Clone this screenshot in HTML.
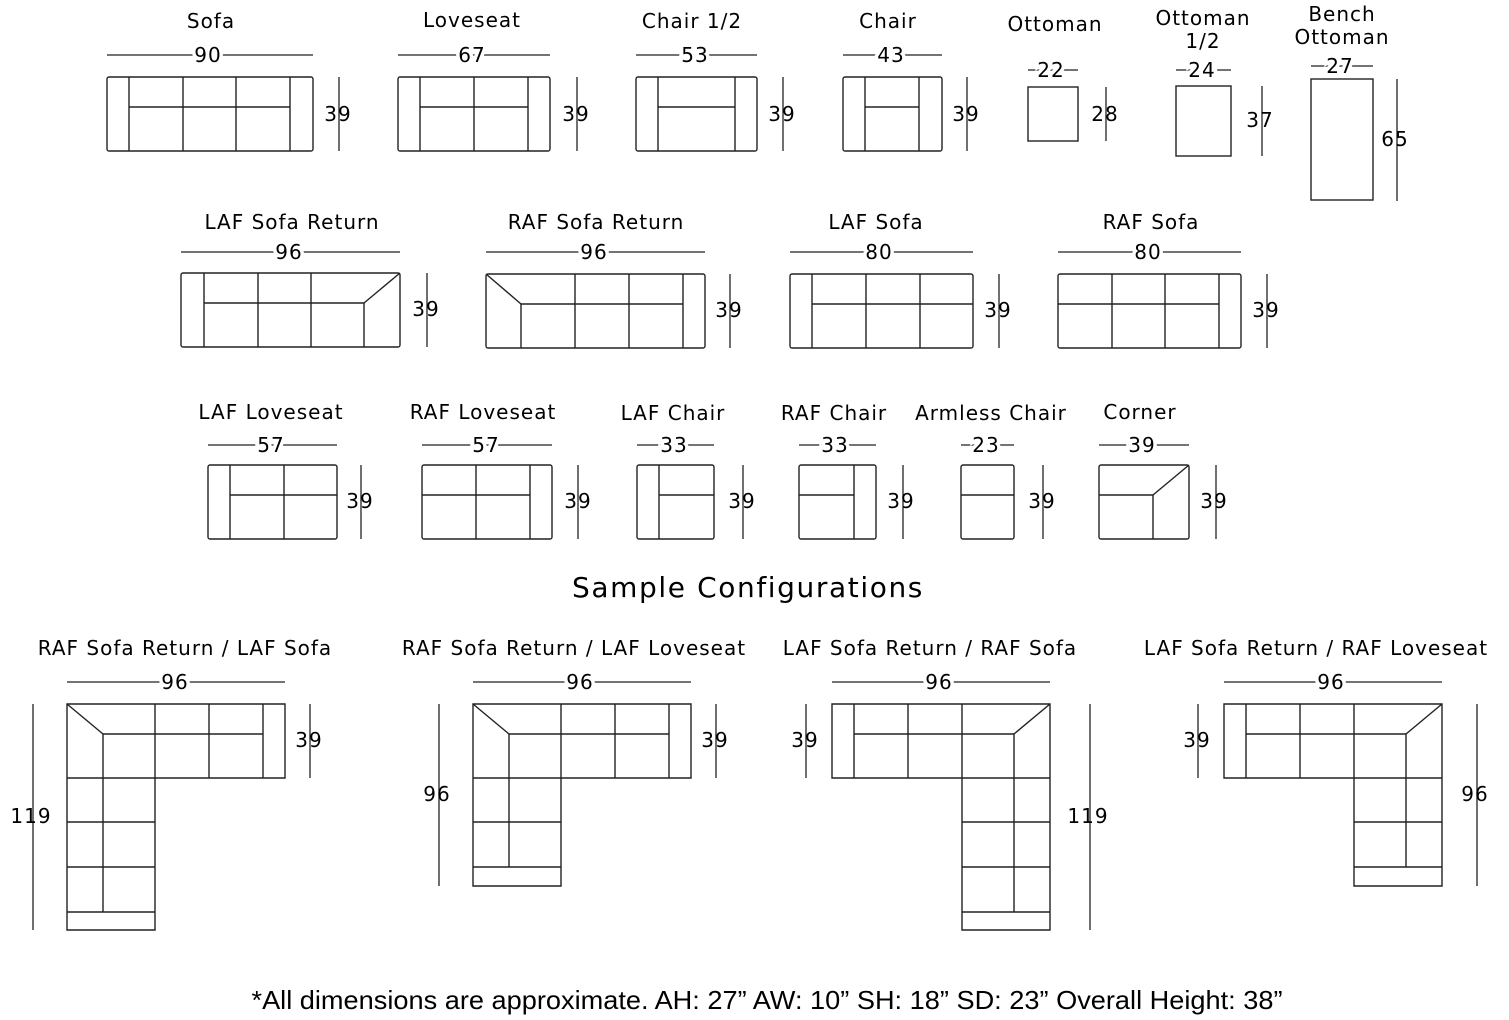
<!DOCTYPE html>
<html><head><meta charset="utf-8"><style>
html,body{margin:0;padding:0;background:#fff;}
svg{display:block;}
text{font-family:"DejaVu Sans","Liberation Sans",sans-serif;font-size:20px;letter-spacing:1px;fill:#000;text-anchor:middle;}
.h{stroke:#fff;stroke-width:7px;paint-order:stroke;}
g.s rect,g.s path,g.s line{fill:none;stroke:#222;stroke-width:1.4;}
line.d{stroke:#222;stroke-width:1.3;}
</style></head><body>
<svg width="1509" height="1020" viewBox="0 0 1509 1020">
<g class="s">
<rect x="107" y="77" width="206" height="74" rx="2"/><line x1="129" y1="77" x2="129" y2="151"/><line x1="290" y1="77" x2="290" y2="151"/><line x1="129" y1="107" x2="290" y2="107"/><line x1="183" y1="77" x2="183" y2="151"/><line x1="236" y1="77" x2="236" y2="151"/>
<rect x="398" y="77" width="152" height="74" rx="2"/><line x1="420" y1="77" x2="420" y2="151"/><line x1="528" y1="77" x2="528" y2="151"/><line x1="420" y1="107" x2="528" y2="107"/><line x1="474" y1="77" x2="474" y2="151"/>
<rect x="636" y="77" width="121" height="74" rx="2"/><line x1="658" y1="77" x2="658" y2="151"/><line x1="735" y1="77" x2="735" y2="151"/><line x1="658" y1="107" x2="735" y2="107"/>
<rect x="843" y="77" width="99" height="74" rx="2"/><line x1="865" y1="77" x2="865" y2="151"/><line x1="919" y1="77" x2="919" y2="151"/><line x1="865" y1="107" x2="919" y2="107"/>
<rect x="1028" y="87" width="50" height="54"/>
<rect x="1176" y="86" width="55" height="70"/>
<rect x="1311" y="79" width="62" height="121"/>
<rect x="181" y="273" width="219" height="74" rx="2"/><line x1="204" y1="273" x2="204" y2="347"/><line x1="204" y1="303" x2="364" y2="303"/><line x1="258" y1="273" x2="258" y2="347"/><line x1="311" y1="273" x2="311" y2="347"/><line x1="364" y1="303" x2="400" y2="273"/><line x1="364" y1="303" x2="364" y2="347"/>
<rect x="486" y="274" width="219" height="74" rx="2"/><line x1="486" y1="274" x2="521" y2="304"/><line x1="521" y1="304" x2="521" y2="348"/><line x1="521" y1="304" x2="683" y2="304"/><line x1="575" y1="274" x2="575" y2="348"/><line x1="629" y1="274" x2="629" y2="348"/><line x1="683" y1="274" x2="683" y2="348"/>
<rect x="790" y="274" width="183" height="74" rx="2"/><line x1="812" y1="274" x2="812" y2="348"/><line x1="812" y1="304" x2="973" y2="304"/><line x1="866" y1="274" x2="866" y2="348"/><line x1="920" y1="274" x2="920" y2="348"/>
<rect x="1058" y="274" width="183" height="74" rx="2"/><line x1="1219" y1="274" x2="1219" y2="348"/><line x1="1058" y1="304" x2="1219" y2="304"/><line x1="1112" y1="274" x2="1112" y2="348"/><line x1="1165" y1="274" x2="1165" y2="348"/>
<rect x="208" y="465" width="129" height="74" rx="2"/><line x1="230" y1="465" x2="230" y2="539"/><line x1="230" y1="495" x2="337" y2="495"/><line x1="284" y1="465" x2="284" y2="539"/>
<rect x="422" y="465" width="130" height="74" rx="2"/><line x1="530" y1="465" x2="530" y2="539"/><line x1="422" y1="495" x2="530" y2="495"/><line x1="476" y1="465" x2="476" y2="539"/>
<rect x="637" y="465" width="77" height="74" rx="2"/><line x1="659" y1="465" x2="659" y2="539"/><line x1="659" y1="495" x2="714" y2="495"/>
<rect x="799" y="465" width="77" height="74" rx="2"/><line x1="854" y1="465" x2="854" y2="539"/><line x1="799" y1="495" x2="854" y2="495"/>
<rect x="961" y="465" width="53" height="74" rx="2"/><line x1="961" y1="495" x2="1014" y2="495"/>
<rect x="1099" y="465" width="90" height="74" rx="2"/><line x1="1099" y1="495" x2="1153" y2="495"/><line x1="1153" y1="495" x2="1189" y2="465"/><line x1="1153" y1="495" x2="1153" y2="539"/>
<path d="M67 704 H285 V778 H155 V930 H67 Z"/><line x1="67" y1="704" x2="103" y2="734"/><line x1="103" y1="734" x2="263" y2="734"/><line x1="103" y1="734" x2="103" y2="912"/><line x1="155" y1="704" x2="155" y2="778"/><line x1="209" y1="704" x2="209" y2="778"/><line x1="263" y1="704" x2="263" y2="778"/><line x1="67" y1="778" x2="155" y2="778"/><line x1="67" y1="822" x2="155" y2="822"/><line x1="67" y1="867" x2="155" y2="867"/><line x1="67" y1="912" x2="155" y2="912"/>
<path d="M473 704 H691 V778 H561 V886 H473 Z"/><line x1="473" y1="704" x2="509" y2="734"/><line x1="509" y1="734" x2="669" y2="734"/><line x1="509" y1="734" x2="509" y2="867"/><line x1="561" y1="704" x2="561" y2="778"/><line x1="615" y1="704" x2="615" y2="778"/><line x1="669" y1="704" x2="669" y2="778"/><line x1="473" y1="778" x2="561" y2="778"/><line x1="473" y1="822" x2="561" y2="822"/><line x1="473" y1="867" x2="561" y2="867"/>
<path d="M832 704 H1050 V930 H962 V778 H832 Z"/><line x1="1050" y1="704" x2="1014" y2="734"/><line x1="854" y1="734" x2="1014" y2="734"/><line x1="1014" y1="734" x2="1014" y2="912"/><line x1="854" y1="704" x2="854" y2="778"/><line x1="908" y1="704" x2="908" y2="778"/><line x1="962" y1="704" x2="962" y2="778"/><line x1="962" y1="778" x2="1050" y2="778"/><line x1="962" y1="822" x2="1050" y2="822"/><line x1="962" y1="867" x2="1050" y2="867"/><line x1="962" y1="912" x2="1050" y2="912"/>
<path d="M1224 704 H1442 V886 H1354 V778 H1224 Z"/><line x1="1442" y1="704" x2="1406" y2="734"/><line x1="1246" y1="734" x2="1406" y2="734"/><line x1="1406" y1="734" x2="1406" y2="867"/><line x1="1246" y1="704" x2="1246" y2="778"/><line x1="1300" y1="704" x2="1300" y2="778"/><line x1="1354" y1="704" x2="1354" y2="778"/><line x1="1354" y1="778" x2="1442" y2="778"/><line x1="1354" y1="822" x2="1442" y2="822"/><line x1="1354" y1="867" x2="1442" y2="867"/>
</g>
<g>
<line class="d" x1="107" y1="55" x2="313" y2="55"/><line class="d" x1="398" y1="55" x2="550" y2="55"/><line class="d" x1="636" y1="55" x2="757" y2="55"/><line class="d" x1="843" y1="55" x2="942" y2="55"/><line class="d" x1="1028" y1="70" x2="1078" y2="70"/><line class="d" x1="1176" y1="70" x2="1231" y2="70"/><line class="d" x1="1311" y1="66" x2="1373" y2="66"/>
<line class="d" x1="339" y1="77" x2="339" y2="151"/><line class="d" x1="577" y1="77" x2="577" y2="151"/><line class="d" x1="783" y1="77" x2="783" y2="151"/><line class="d" x1="967" y1="77" x2="967" y2="151"/><line class="d" x1="1106" y1="87" x2="1106" y2="141"/><line class="d" x1="1262" y1="86" x2="1262" y2="156"/><line class="d" x1="1397" y1="79" x2="1397" y2="201"/>
<line class="d" x1="181" y1="252" x2="400" y2="252"/><line class="d" x1="486" y1="252" x2="705" y2="252"/><line class="d" x1="790" y1="252" x2="973" y2="252"/><line class="d" x1="1058" y1="252" x2="1241" y2="252"/>
<line class="d" x1="427" y1="273" x2="427" y2="347"/><line class="d" x1="730" y1="274" x2="730" y2="348"/><line class="d" x1="999" y1="274" x2="999" y2="348"/><line class="d" x1="1267" y1="274" x2="1267" y2="348"/>
<line class="d" x1="208" y1="445" x2="337" y2="445"/><line class="d" x1="422" y1="445" x2="552" y2="445"/><line class="d" x1="637" y1="445" x2="714" y2="445"/><line class="d" x1="799" y1="445" x2="876" y2="445"/><line class="d" x1="961" y1="445" x2="1014" y2="445"/><line class="d" x1="1099" y1="445" x2="1189" y2="445"/>
<line class="d" x1="361" y1="465" x2="361" y2="539"/><line class="d" x1="578" y1="465" x2="578" y2="539"/><line class="d" x1="743" y1="465" x2="743" y2="539"/><line class="d" x1="903" y1="465" x2="903" y2="539"/><line class="d" x1="1043" y1="465" x2="1043" y2="539"/><line class="d" x1="1216" y1="465" x2="1216" y2="539"/>
<line class="d" x1="67" y1="682" x2="285" y2="682"/><line class="d" x1="473" y1="682" x2="691" y2="682"/><line class="d" x1="832" y1="682" x2="1050" y2="682"/><line class="d" x1="1224" y1="682" x2="1442" y2="682"/>
<line class="d" x1="310" y1="704" x2="310" y2="778"/><line class="d" x1="33" y1="704" x2="33" y2="930"/><line class="d" x1="716" y1="704" x2="716" y2="778"/><line class="d" x1="439" y1="704" x2="439" y2="886"/><line class="d" x1="806" y1="704" x2="806" y2="778"/><line class="d" x1="1090" y1="704" x2="1090" y2="930"/><line class="d" x1="1198" y1="704" x2="1198" y2="778"/><line class="d" x1="1477" y1="704" x2="1477" y2="886"/>
</g>
<text x="211" y="28">Sofa</text><text x="472" y="27">Loveseat</text><text x="692" y="28">Chair 1/2</text><text x="888" y="28">Chair</text><text x="1055" y="31">Ottoman</text><text x="1203" y="25">Ottoman</text><text x="1203" y="48">1/2</text><text x="1342" y="21">Bench</text><text x="1342" y="44">Ottoman</text>
<text x="292" y="229">LAF Sofa Return</text><text x="596" y="229">RAF Sofa Return</text><text x="876" y="229">LAF Sofa</text><text x="1151" y="229">RAF Sofa</text>
<text x="271" y="419">LAF Loveseat</text><text x="483" y="419">RAF Loveseat</text><text x="673" y="420">LAF Chair</text><text x="834" y="420">RAF Chair</text><text x="991" y="420">Armless Chair</text><text x="1140" y="419">Corner</text>
<text x="748" y="597" style="font-size:28px;letter-spacing:1.6px">Sample Configurations</text>
<text x="185" y="655">RAF Sofa Return / LAF Sofa</text><text x="574" y="655">RAF Sofa Return / LAF Loveseat</text><text x="930" y="655">LAF Sofa Return / RAF Sofa</text><text x="1316" y="655">LAF Sofa Return / RAF Loveseat</text>
<text class="h" x="208" y="62">90</text><text class="h" x="472" y="62">67</text><text class="h" x="695" y="62">53</text><text class="h" x="891" y="62">43</text><text class="h" x="1051" y="77">22</text><text class="h" x="1202" y="77">24</text><text class="h" x="1340" y="73">27</text>
<text class="h" x="289" y="259">96</text><text class="h" x="594" y="259">96</text><text class="h" x="879" y="259">80</text><text class="h" x="1148" y="259">80</text>
<text class="h" x="271" y="452">57</text><text class="h" x="486" y="452">57</text><text class="h" x="674" y="452">33</text><text class="h" x="835" y="452">33</text><text class="h" x="986" y="452">23</text><text class="h" x="1142" y="452">39</text>
<text class="h" x="175" y="689">96</text><text class="h" x="580" y="689">96</text><text class="h" x="939" y="689">96</text><text class="h" x="1331" y="689">96</text>
<text x="338" y="121">39</text><text x="576" y="121">39</text><text x="782" y="121">39</text><text x="966" y="121">39</text><text x="1105" y="121">28</text><text x="1260" y="127">37</text><text x="1395" y="146">65</text>
<text x="426" y="316">39</text><text x="729" y="317">39</text><text x="998" y="317">39</text><text x="1266" y="317">39</text>
<text x="360" y="508">39</text><text x="578" y="508">39</text><text x="742" y="508">39</text><text x="901" y="508">39</text><text x="1042" y="508">39</text><text x="1214" y="508">39</text>
<text x="309" y="747">39</text><text x="31" y="823">119</text><text x="715" y="747">39</text><text x="437" y="801">96</text><text x="805" y="747">39</text><text x="1088" y="823">119</text><text x="1197" y="747">39</text><text x="1475" y="801">96</text>
<text x="767" y="1009" textLength="1031" lengthAdjust="spacingAndGlyphs" style="font-family:'Liberation Sans',sans-serif;font-size:26px;letter-spacing:0">*All dimensions are approximate. AH: 27” AW: 10” SH: 18” SD: 23”  Overall Height: 38”</text>
</svg>
</body></html>
